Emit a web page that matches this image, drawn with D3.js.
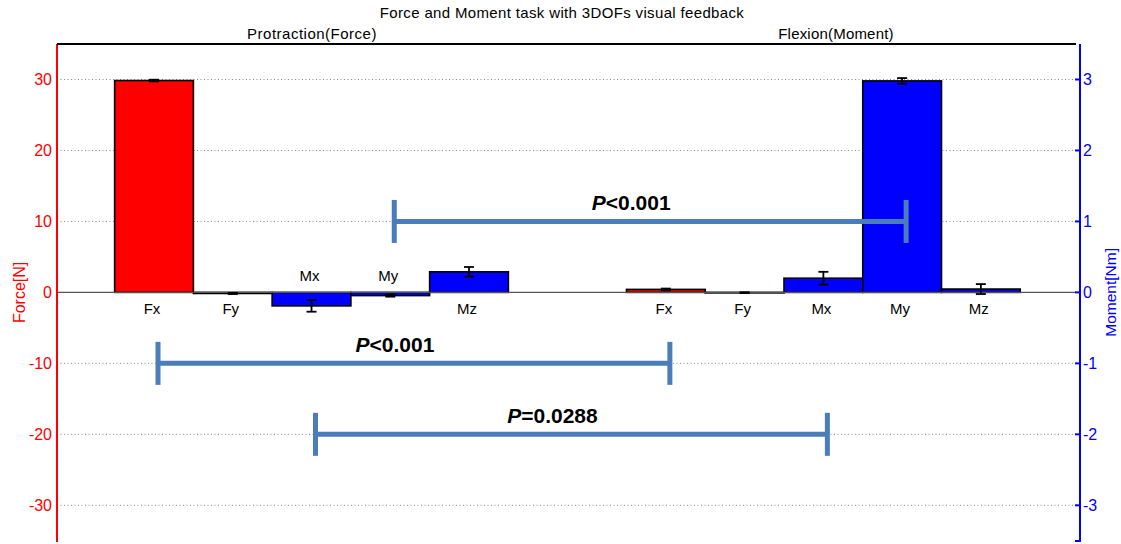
<!DOCTYPE html>
<html>
<head>
<meta charset="utf-8">
<script src="https://cdn.jsdelivr.net/npm/d3@7"></script>
<style>
  html, body { margin: 0; padding: 0; background: #fff; }
  svg { display: block; font-family: "Liberation Sans", Arial, sans-serif; }
</style>
</head>
<body>
<svg id="chart" width="1121" height="544"></svg>
<script>
// ---------------- data ----------------
const categories = ["Fx", "Fy", "Mx", "My", "Mz"];
const categoryKind = ["force", "force", "moment", "moment", "moment"];
// Protraction (Force) task, plotted against the Force[N] axis
const forceTaskMeans = [29.85, -0.15, -1.9, -0.45, 2.9];
const forceTaskErrors = [0.12, 0.08, 0.82, 0.15, 0.68];
const forceTaskLabelSide = ["below", "below", "above", "above", "below"];
// Flexion (Moment) task, plotted against the Moment[Nm] axis
const momentTaskMeans = [0.042, -0.004, 0.2, 2.98, 0.047];
const momentTaskErrors = [0.012, 0.006, 0.09, 0.04, 0.07];
const momentTaskLabelSide = ["below", "below", "below", "below", "below"];
// group positions (x units)
const forceGroupPositions = [1, 2, 3, 4, 5];
const momentGroupPositions = [7.5, 8.5, 9.5, 10.5, 11.5];
const forceTicks = [-30, -20, -10, 0, 10, 20, 30];
const momentTicks = [-3, -2, -1, 0, 1, 2, 3];
const groupTitles = ["Protraction(Force)", "Flexion(Moment)"];
const chartTitle = "Force and Moment task with 3DOFs visual feedback";
// significance brackets: from category (force task) to category (moment task), at a force-axis level
const brackets = [
  { from: "My", to: "My", level: 10, label: "<0.001" },
  { from: "Fx", to: "Fx", level: -10, label: "<0.001" },
  { from: "Mx", to: "Mx", level: -20, label: "=0.0288" }
];

(function () {
// ---------------- layout ----------------
const svg = d3.select("#chart");
const pL = 57, pR = 1076, rightAxisX = 1080, pT = 44, pB = 542;

const x = d3.scaleLinear().domain([-0.232, 12.708]).range([pL, pR]);
const yF = d3.scaleLinear().domain([-35.17, 35.0]).range([pB, pT]);
const yM = d3.scaleLinear().domain([-3.517, 3.5]).range([pB, pT]);
const barW = x(1) - x(0);
const colorOf = k => (k === "force" ? "#ff0000" : "#0000ff");

// gridlines (dotted)
svg.append("g").selectAll("line").data(forceTicks.filter(d => d !== 0)).join("line")
  .attr("x1", pL).attr("x2", pR)
  .attr("y1", d => yF(d)).attr("y2", d => yF(d))
  .attr("stroke", "#8a8a8a").attr("stroke-width", 1).attr("stroke-dasharray", "1,2.5");

// bars
function drawGroup(positions, means, errs, yScale, sides) {
  const data = categories.map((c, i) => ({ c, p: positions[i], v: means[i], e: errs[i], k: categoryKind[i], side: sides[i] }));
  const g = svg.append("g");
  g.selectAll("rect").data(data).join("rect")
    .attr("x", d => x(d.p - 0.5))
    .attr("width", barW)
    .attr("y", d => yScale(Math.max(0, d.v)))
    .attr("height", d => Math.max(0.5, Math.abs(yScale(d.v) - yScale(0))))
    .attr("fill", d => colorOf(d.k))
    .attr("stroke", "#000").attr("stroke-width", 1.6);
  return data;
}
const fData = drawGroup(forceGroupPositions, forceTaskMeans, forceTaskErrors, yF, forceTaskLabelSide);
const mData = drawGroup(momentGroupPositions, momentTaskMeans, momentTaskErrors, yM, momentTaskLabelSide);

// zero line
svg.append("line").attr("x1", pL).attr("x2", pR).attr("y1", yF(0)).attr("y2", yF(0))
  .attr("stroke", "#555").attr("stroke-width", 1.2);

// error bars
function drawErrors(data, yScale) {
  const g = svg.append("g").attr("stroke", "#000").attr("stroke-width", 1.8);
  data.forEach(d => {
    const cx = x(d.p);
    const y1 = yScale(d.v + d.e), y2 = yScale(d.v - d.e);
    g.append("line").attr("x1", cx).attr("x2", cx).attr("y1", y1).attr("y2", y2);
    g.append("line").attr("x1", cx - 5).attr("x2", cx + 5).attr("y1", y1).attr("y2", y1);
    g.append("line").attr("x1", cx - 5).attr("x2", cx + 5).attr("y1", y2).attr("y2", y2);
  });
}
drawErrors(fData, yF);
drawErrors(mData, yM);

// category labels
function drawLabels(data) {
  svg.append("g").selectAll("text").data(data).join("text")
    .attr("x", d => x(d.p) - 2)
    .attr("y", d => d.side === "below" ? yF(0) + 22 : yF(0) - 11)
    .attr("text-anchor", "middle")
    .attr("font-size", 15).attr("fill", "#000")
    .text(d => d.c);
}
drawLabels(fData);
drawLabels(mData);

// left axis (red)
svg.append("line").attr("x1", pL).attr("x2", pL).attr("y1", pT).attr("y2", pB)
  .attr("stroke", "#ff0000").attr("stroke-width", 2);
svg.append("g").selectAll("text").data(forceTicks).join("text")
  .attr("x", pL - 5).attr("y", d => yF(d) + 5.5)
  .attr("text-anchor", "end").attr("font-size", 16).attr("fill", "#ff0000")
  .text(d => d);

// right axis (blue)
svg.append("line").attr("x1", rightAxisX).attr("x2", rightAxisX).attr("y1", pT).attr("y2", pB)
  .attr("stroke", "#0000ff").attr("stroke-width", 2);
svg.append("g").selectAll("line").data(momentTicks).join("line")
  .attr("x1", rightAxisX - 5).attr("x2", rightAxisX)
  .attr("y1", d => yM(d)).attr("y2", d => yM(d))
  .attr("stroke", "#0000ff").attr("stroke-width", 2);
svg.append("line").attr("x1", rightAxisX - 5).attr("x2", rightAxisX).attr("y1", pB - 1).attr("y2", pB - 1)
  .attr("stroke", "#0000ff").attr("stroke-width", 2);
svg.append("g").selectAll("text").data(momentTicks).join("text")
  .attr("x", rightAxisX + 3).attr("y", d => yM(d) + 5.5)
  .attr("text-anchor", "start").attr("font-size", 16).attr("fill", "#0000ff")
  .text(d => d);

// top border
svg.append("line").attr("x1", pL).attr("x2", pR).attr("y1", pT).attr("y2", pT)
  .attr("stroke", "#000").attr("stroke-width", 2);

// axis titles
svg.append("text").attr("transform", `translate(25,${yF(0)}) rotate(-90)`)
  .attr("text-anchor", "middle").attr("font-size", 16).attr("fill", "#ff0000").text("Force[N]");
svg.append("text").attr("transform", `translate(1116,${yF(0)}) rotate(-90)`)
  .attr("text-anchor", "middle").attr("font-size", 15.5).attr("fill", "#0000ff").text("Moment[Nm]");

// titles
svg.append("text").attr("x", 562).attr("y", 18).attr("text-anchor", "middle")
  .attr("font-size", 15).attr("letter-spacing", 0.35).attr("fill", "#000").text(chartTitle);
svg.append("text").attr("x", 312).attr("y", 39).attr("text-anchor", "middle")
  .attr("font-size", 15).attr("letter-spacing", 0.5).attr("fill", "#000").text(groupTitles[0]);
svg.append("text").attr("x", 836).attr("y", 39).attr("text-anchor", "middle")
  .attr("font-size", 15).attr("letter-spacing", 0.2).attr("fill", "#000").text(groupTitles[1]);

// significance brackets
const bColor = "#4a7dba";
const bg = svg.append("g");
brackets.forEach(b => {
  const x1 = x(forceGroupPositions[categories.indexOf(b.from)]) + 4;
  const x2 = x(momentGroupPositions[categories.indexOf(b.to)]) + 4;
  const yy = yF(b.level);
  bg.append("line").attr("x1", x1).attr("x2", x2).attr("y1", yy).attr("y2", yy)
    .attr("stroke", bColor).attr("stroke-width", 5);
  [x1, x2].forEach(xx => bg.append("line").attr("x1", xx).attr("x2", xx)
    .attr("y1", yy - 21.5).attr("y2", yy + 21.5)
    .attr("stroke", bColor).attr("stroke-width", 5));
  const t = bg.append("text").attr("x", (x1 + x2) / 2 - 19).attr("y", yy - 11)
    .attr("text-anchor", "middle").attr("font-size", 21).attr("font-weight", "bold").attr("fill", "#000");
  t.append("tspan").attr("font-style", "italic").text("P");
  t.append("tspan").text(b.label);
});
})();
</script>
</body>
</html>
